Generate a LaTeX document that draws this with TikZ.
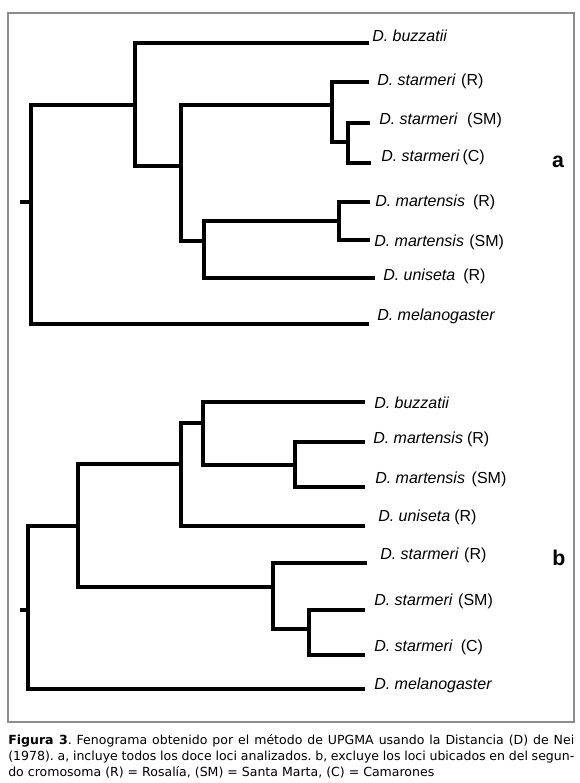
\documentclass[tikz,border=0pt]{standalone}
\usepackage{fontspec}
\setmainfont{Liberation Sans}
\newfontfamily\capfont{DejaVu Sans}
\usetikzlibrary{positioning}
\definecolor{framegray}{HTML}{8C8C8C}
\frenchspacing

\begin{document}
\begin{tikzpicture}[x=0.75pt,y=-0.75pt,
  branch/.style={line width=2.5pt},
  taxon/.style={anchor=west,inner sep=0pt,font=\fontsize{12}{14}\selectfont},
  panel/.style={inner sep=0pt,font=\fontsize{16}{18}\selectfont\bfseries}]
\useasboundingbox (0,0) rectangle (580,783);
\draw[framegray,line width=0.8pt] (8,13) rectangle (574,722);

% fenograma a
\coordinate (a0) at (20,202);
\coordinate (aR) at (31,202);
\coordinate (aU) at (135,105);
\coordinate (aI) at (181,166);
\coordinate (aS) at (332,105);
\coordinate (aS2) at (348,142);
\coordinate (aM) at (204,241);
\coordinate (aM2) at (339,221);
\coordinate (abuz) at (369,43);
\coordinate (astR) at (369,82);
\coordinate (astSM) at (370,123);
\coordinate (astC) at (371,163);
\coordinate (amaR) at (370,202);
\coordinate (amaSM) at (370,240);
\coordinate (auni) at (375,278);
\coordinate (amel) at (369,324);
\draw[branch] (a0) -- (aR);
\foreach \p/\c in {aR/aU,aR/amel,aU/abuz,aU/aI,aI/aS,aI/aM,aS/astR,aS/aS2,
  aS2/astSM,aS2/astC,aM/aM2,aM/auni,aM2/amaR,aM2/amaSM}
  \draw[branch] (\p) |- (\c);
\node[taxon] (labuz) at (372,36) {\textit{D. buzzatii}};
\node[taxon] (lastR) at (377,81) {\textit{D. starmeri}\hspace{4pt}(R)};
\node[taxon] (lastSM) at (379,120) {\textit{D. starmeri}\hspace{7pt}(SM)};
\node[taxon] (lastC) at (381,157) {\textit{D. starmeri}\hspace{2pt}(C)};
\node[taxon] (lamaR) at (375,202) {\textit{D. martensis}\hspace{6pt}(R)};
\node[taxon] (lamaSM) at (374,242) {\textit{D. martensis}\hspace{4pt}(SM)};
\node[taxon] (launi) at (383,276) {\textit{D. uniseta}\hspace{6pt}(R)};
\node[taxon] (lamel) at (377,316) {\textit{D. melanogaster}};
\node[panel] (pa) at (558,162) {a};

% fenograma b
\coordinate (b0) at (20,610);
\coordinate (bR) at (28,610);
\coordinate (bU) at (78,526);
\coordinate (bA) at (181,464);
\coordinate (bB) at (203,423);
\coordinate (bM) at (295,465);
\coordinate (bS) at (273,587);
\coordinate (bS2) at (309,629);
\coordinate (bbuz) at (365,402);
\coordinate (bmaR) at (365,442);
\coordinate (bmaSM) at (365,487);
\coordinate (buni) at (365,526);
\coordinate (bstR) at (367,563);
\coordinate (bstSM) at (365,610);
\coordinate (bstC) at (365,655);
\coordinate (bmel) at (365,689);
\draw[branch] (b0) -- (bR);
\foreach \p/\c in {bR/bU,bR/bmel,bU/bA,bU/bS,bA/bB,bA/buni,bB/bbuz,bB/bM,
  bM/bmaR,bM/bmaSM,bS/bstR,bS/bS2,bS2/bstSM,bS2/bstC}
  \draw[branch] (\p) |- (\c);
\node[taxon] (lbbuz) at (374,403) {\textit{D. buzzatii}};
\node[taxon] (lbmaR) at (373,439) {\textit{D. martensis}\hspace{3pt}(R)};
\node[taxon] (lbmaSM) at (375,479) {\textit{D. martensis}\hspace{5pt}(SM)};
\node[taxon] (lbuni) at (378,517) {\textit{D. uniseta}\hspace{3pt}(R)};
\node[taxon] (lbstR) at (380,555) {\textit{D. starmeri}\hspace{4pt}(R)};
\node[taxon] (lbstSM) at (374,601) {\textit{D. starmeri}\hspace{4pt}(SM)};
\node[taxon] (lbstC) at (374,647) {\textit{D. starmeri}\hspace{6pt}(C)};
\node[taxon] (lbmel) at (374,685) {\textit{D. melanogaster}};
\node[panel] (pb) at (559,558) {b};

\node[anchor=north west,inner sep=0pt,text width=424.5pt,align=justify,
  font=\capfont\fontsize{9.4}{12.2}\selectfont] (cap) at (8,734)
  {\textbf{Figura 3}. Fenograma obtenido por el método de UPGMA usando la Distancia (D) de Nei\linebreak
  (1978). a, incluye todos los doce loci analizados. b, excluye los loci ubicados en del segun-\linebreak
  do cromosoma (R) = Rosalía, (SM) = Santa Marta, (C) = Camarones};
\end{tikzpicture}
\end{document}
